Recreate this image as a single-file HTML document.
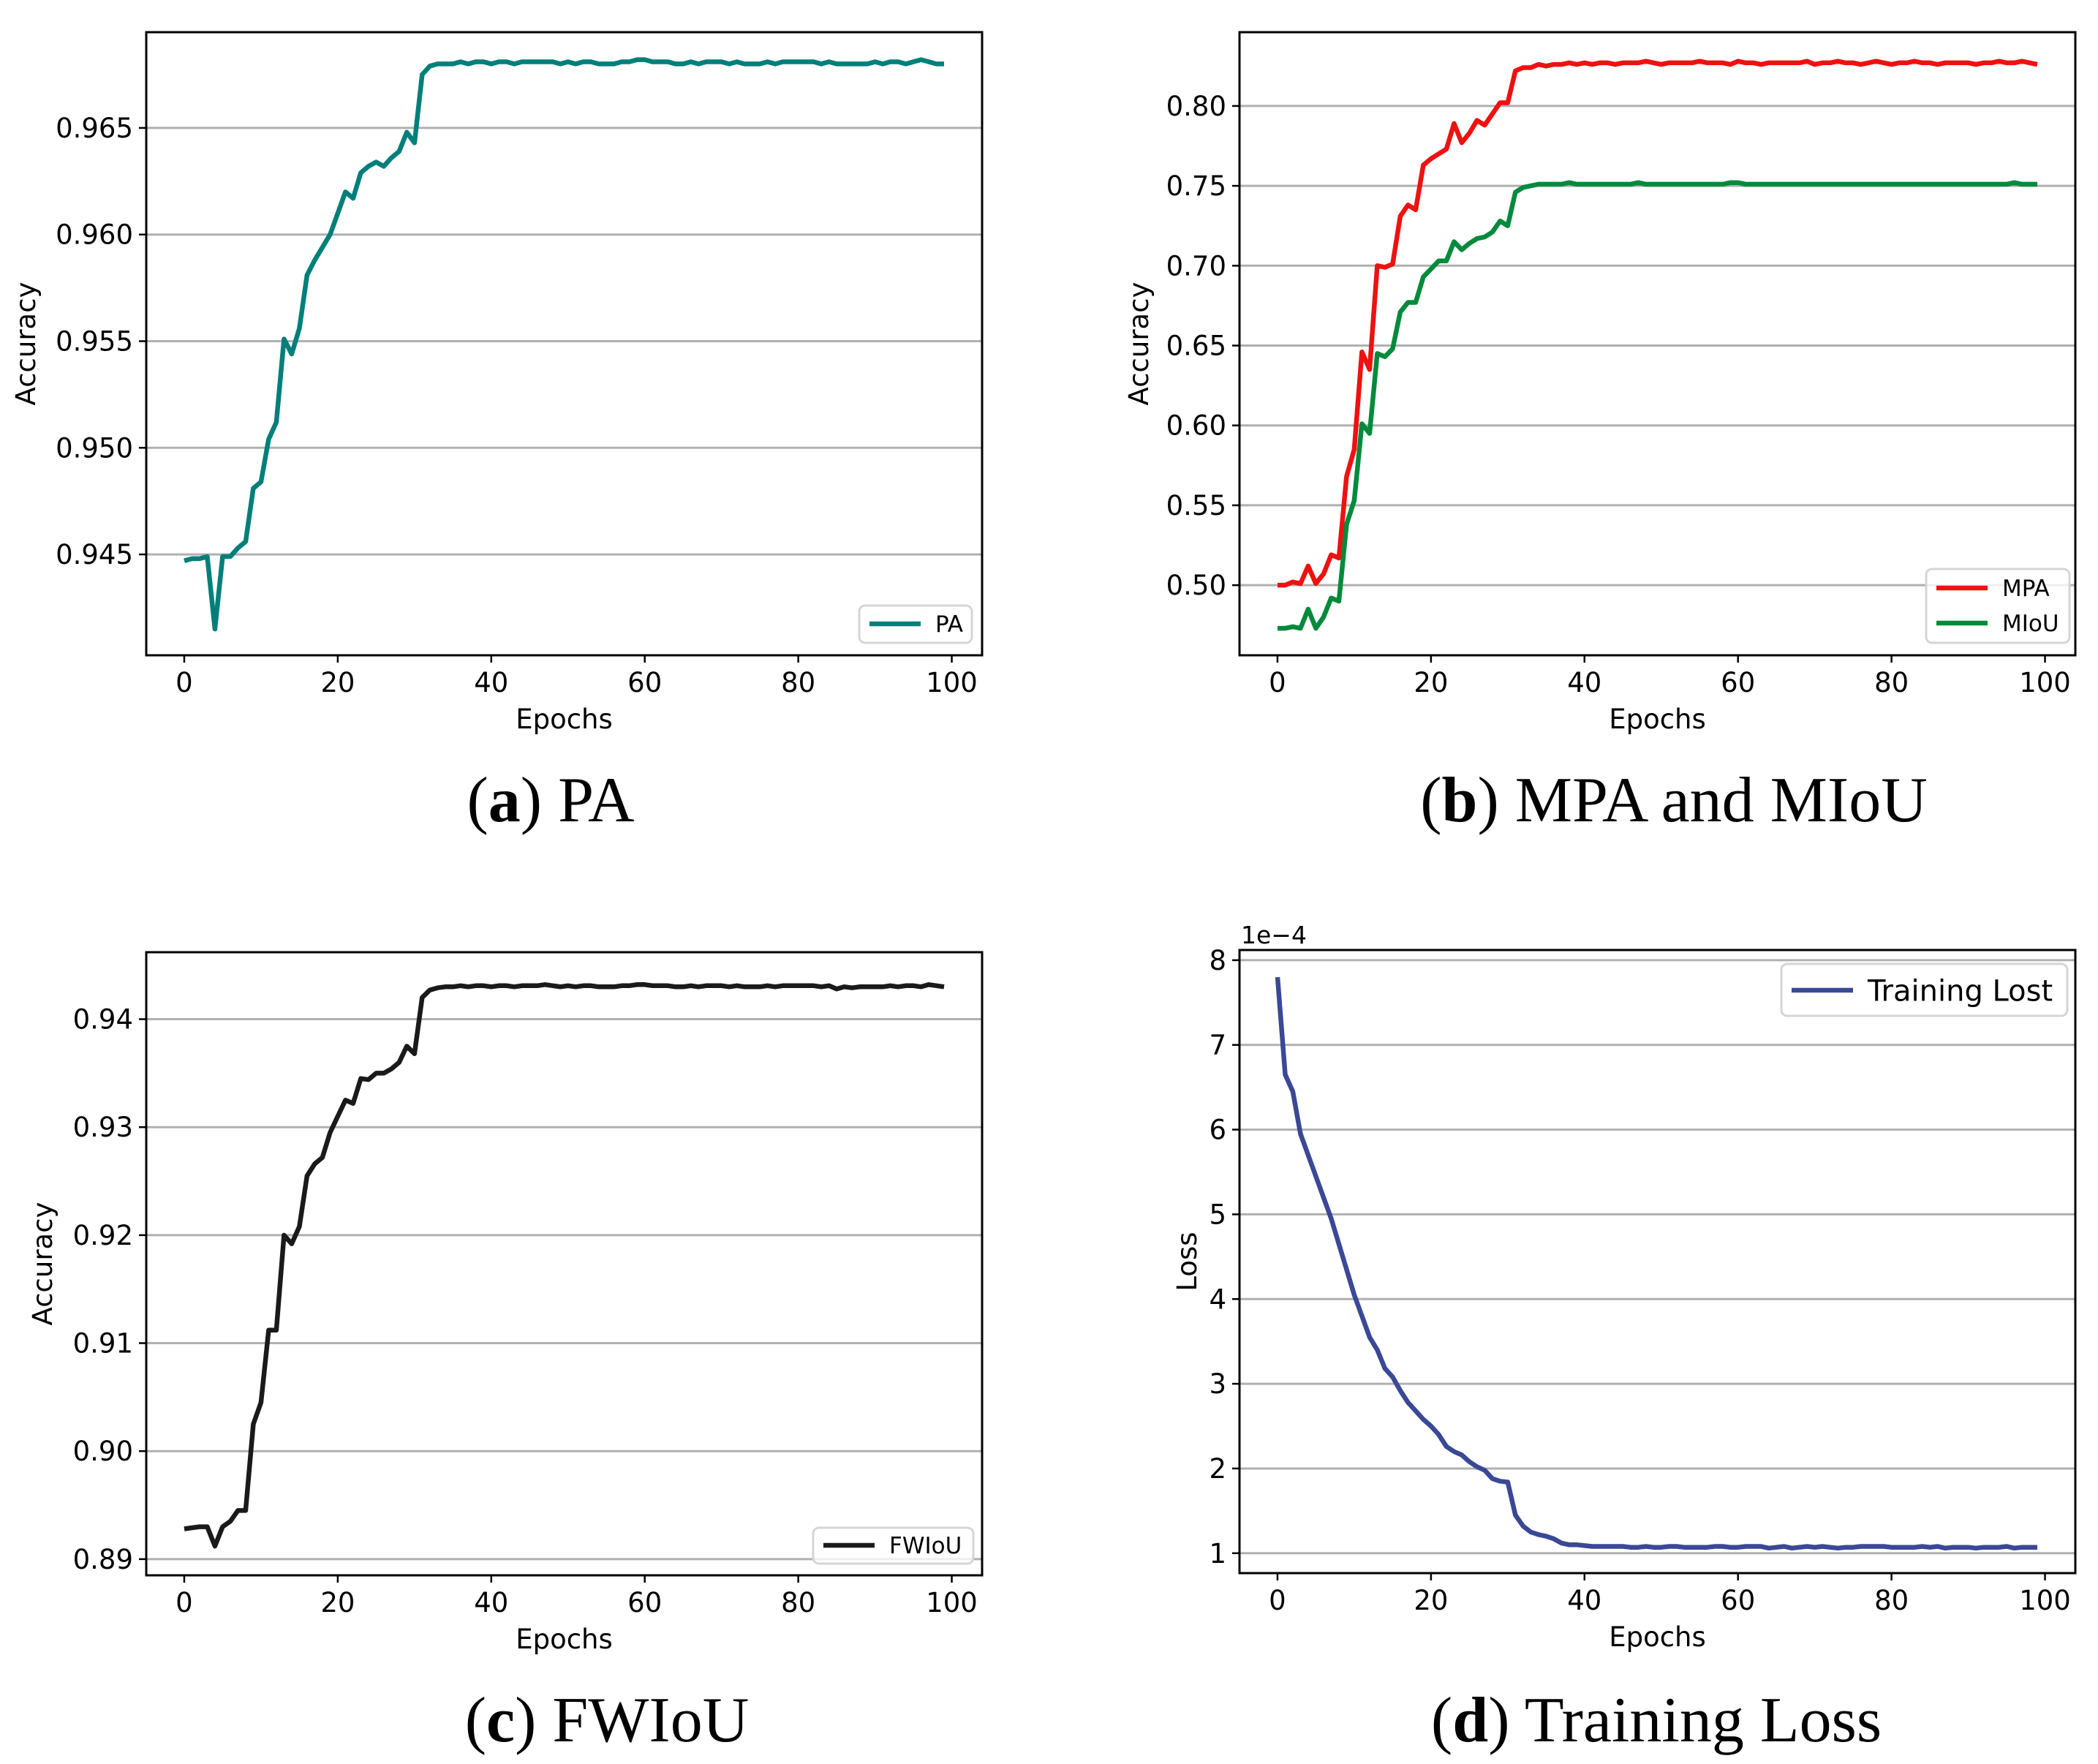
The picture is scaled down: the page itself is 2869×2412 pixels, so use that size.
<!DOCTYPE html>
<html><head><meta charset="utf-8"><style>
html,body{margin:0;padding:0;background:#fff;}
svg{display:block;}
</style></head><body>
<svg id="fig" xmlns="http://www.w3.org/2000/svg" width="2869" height="2412" viewBox="0 0 2869 2412"></svg>
<script>
const epochs = Array.from({length:100},(_, i)=>i);
const paValues = [0.9447,0.9448,0.9448,0.9449,0.9415,0.9449,0.9449,0.9453,0.9456,0.9481,0.9484,0.9504,0.9512,0.9551,0.9544,0.9556,0.9581,0.9588,0.9594,0.9600,0.9610,0.9620,0.9617,0.9629,0.9632,0.9634,0.9632,0.9636,0.9639,0.9648,0.9643,0.9675,0.9679,0.9680,0.9680,0.9680,0.9681,0.9680,0.9681,0.9681,0.9680,0.9681,0.9681,0.9680,0.9681,0.9681,0.9681,0.9681,0.9681,0.9680,0.9681,0.9680,0.9681,0.9681,0.9680,0.9680,0.9680,0.9681,0.9681,0.9682,0.9682,0.9681,0.9681,0.9681,0.9680,0.9680,0.9681,0.9680,0.9681,0.9681,0.9681,0.9680,0.9681,0.9680,0.9680,0.9680,0.9681,0.9680,0.9681,0.9681,0.9681,0.9681,0.9681,0.9680,0.9681,0.9680,0.9680,0.9680,0.9680,0.9680,0.9681,0.9680,0.9681,0.9681,0.9680,0.9681,0.9682,0.9681,0.9680,0.9680];
const mpaValues = [0.500,0.500,0.502,0.501,0.512,0.501,0.507,0.519,0.517,0.568,0.585,0.646,0.635,0.700,0.699,0.701,0.731,0.738,0.735,0.763,0.767,0.770,0.773,0.789,0.777,0.783,0.791,0.788,0.795,0.802,0.802,0.822,0.824,0.824,0.826,0.825,0.826,0.826,0.827,0.826,0.827,0.826,0.827,0.827,0.826,0.827,0.827,0.827,0.828,0.827,0.826,0.827,0.827,0.827,0.827,0.828,0.827,0.827,0.827,0.826,0.828,0.827,0.827,0.826,0.827,0.827,0.827,0.827,0.827,0.828,0.826,0.827,0.827,0.828,0.827,0.827,0.826,0.827,0.828,0.827,0.826,0.827,0.827,0.828,0.827,0.827,0.826,0.827,0.827,0.827,0.827,0.826,0.827,0.827,0.828,0.827,0.827,0.828,0.827,0.826];
const miouValues = [0.473,0.473,0.474,0.473,0.485,0.473,0.480,0.492,0.490,0.538,0.553,0.601,0.595,0.645,0.643,0.648,0.671,0.677,0.677,0.693,0.698,0.703,0.703,0.715,0.710,0.714,0.717,0.718,0.721,0.728,0.725,0.746,0.749,0.750,0.751,0.751,0.751,0.751,0.752,0.751,0.751,0.751,0.751,0.751,0.751,0.751,0.751,0.752,0.751,0.751,0.751,0.751,0.751,0.751,0.751,0.751,0.751,0.751,0.751,0.752,0.752,0.751,0.751,0.751,0.751,0.751,0.751,0.751,0.751,0.751,0.751,0.751,0.751,0.751,0.751,0.751,0.751,0.751,0.751,0.751,0.751,0.751,0.751,0.751,0.751,0.751,0.751,0.751,0.751,0.751,0.751,0.751,0.751,0.751,0.751,0.751,0.752,0.751,0.751,0.751];
const fwiouValues = [0.8928,0.8929,0.8930,0.8930,0.8912,0.8930,0.8935,0.8945,0.8945,0.9025,0.9045,0.9112,0.9112,0.9200,0.9192,0.9208,0.9255,0.9266,0.9272,0.9295,0.9310,0.9325,0.9322,0.9345,0.9344,0.9350,0.9350,0.9354,0.9360,0.9375,0.9368,0.9420,0.9427,0.9429,0.9430,0.9430,0.9431,0.9430,0.9431,0.9431,0.9430,0.9431,0.9431,0.9430,0.9431,0.9431,0.9431,0.9432,0.9431,0.9430,0.9431,0.9430,0.9431,0.9431,0.9430,0.9430,0.9430,0.9431,0.9431,0.9432,0.9432,0.9431,0.9431,0.9431,0.9430,0.9430,0.9431,0.9430,0.9431,0.9431,0.9431,0.9430,0.9431,0.9430,0.9430,0.9430,0.9431,0.9430,0.9431,0.9431,0.9431,0.9431,0.9431,0.9430,0.9431,0.9428,0.9430,0.9429,0.9430,0.9430,0.9430,0.9430,0.9431,0.9430,0.9431,0.9431,0.9430,0.9432,0.9431,0.9430];
const lossValues = [7.8,6.65,6.45,5.95,5.7,5.45,5.2,4.95,4.65,4.35,4.05,3.8,3.55,3.4,3.18,3.08,2.92,2.78,2.68,2.58,2.5,2.4,2.26,2.2,2.16,2.08,2.02,1.98,1.88,1.85,1.84,1.45,1.32,1.25,1.22,1.2,1.17,1.12,1.1,1.1,1.09,1.08,1.08,1.08,1.08,1.08,1.07,1.07,1.08,1.07,1.07,1.08,1.08,1.07,1.07,1.07,1.07,1.08,1.08,1.07,1.07,1.08,1.08,1.08,1.06,1.07,1.08,1.06,1.07,1.08,1.07,1.08,1.07,1.06,1.07,1.07,1.08,1.08,1.08,1.08,1.07,1.07,1.07,1.07,1.08,1.07,1.08,1.06,1.07,1.07,1.07,1.06,1.07,1.07,1.07,1.08,1.06,1.07,1.07,1.07];
const xTicks = [0,20,40,60,80,100];
const paTicks = [0.945,0.950,0.955,0.960,0.965];
const paTickLabels = ["0.945","0.950","0.955","0.960","0.965"];
const bTicks = [0.50,0.55,0.60,0.65,0.70,0.75,0.80];
const bTickLabels = ["0.50","0.55","0.60","0.65","0.70","0.75","0.80"];
const cTicks = [0.89,0.90,0.91,0.92,0.93,0.94];
const cTickLabels = ["0.89","0.90","0.91","0.92","0.93","0.94"];
const dTicks = [1,2,3,4,5,6,7,8];
const dTickLabels = ["1","2","3","4","5","6","7","8"];

const NS = "http://www.w3.org/2000/svg";
const svg = document.getElementById('fig');
function mk(tag, attrs, parent, text){
  const e = document.createElementNS(NS, tag);
  for (const k in attrs) e.setAttribute(k, attrs[k]);
  if (text !== undefined) e.textContent = text;
  (parent||svg).appendChild(e);
  return e;
}
const FONT = "DejaVu Sans, Liberation Sans, sans-serif";

function panel(cfg){
  const g = mk('g', {});
  
  
  const L=cfg.left, R=cfg.left+1143, T=cfg.top, B=cfg.top+852;
  const xs = v => L + (v - (-4.95)) / (103.95 - (-4.95)) * (R - L);
  const ys = v => B - (v - cfg.ymin) / (cfg.ymax - cfg.ymin) * (B - T);
  cfg.yticks.forEach((t,i)=>{
    const y = ys(t);
    const gl = mk('line', {x1:L, x2:R, y1:y, y2:y, stroke:'#b0b0b0', 'stroke-width':3}, g);
    
    
    mk('line', {x1:L-10, x2:L, y1:y, y2:y, stroke:'#000', 'stroke-width':2.5}, g);
    const tl = mk('text', {x:L-18, y:y+13, 'text-anchor':'end', 'font-family':FONT, 'font-size':37, fill:'#000'}, g, cfg.ylabels[i]);
    
    
  });
  xTicks.forEach(t=>{
    const x = xs(t);
    mk('line', {x1:x, x2:x, y1:B, y2:B+10, stroke:'#000', 'stroke-width':2.5}, g);
    const tl = mk('text', {x:x, y:B+50, 'text-anchor':'middle', 'font-family':FONT, 'font-size':37, fill:'#000'}, g, String(t));
    
    
  });
  cfg.series.forEach(s=>{
    const d = s.values.map((v,i)=>(i?'L':'M')+xs(epochs[i]).toFixed(1)+','+ys(v).toFixed(1)).join(' ');
    const p = mk('path', {d:d, fill:'none', stroke:s.color, 'stroke-width':6.5, 'stroke-linejoin':'round'}, g);
    
    
  });
  const sp = mk('rect', {x:L, y:T, width:R-L, height:B-T, fill:'none', stroke:'#000', 'stroke-width':3}, g);
  
  
  const xl = mk('text', {x:(L+R)/2, y:B+100, 'text-anchor':'middle', 'font-family':FONT, 'font-size':37, fill:'#000'}, g, 'Epochs');
  
  
  const yl = mk('text', {x:0, y:0, transform:`translate(${cfg.ylabX},${(T+B)/2}) rotate(-90)`, 'text-anchor':'middle', 'font-family':FONT, 'font-size':37, fill:'#000'}, g, cfg.ytitle);
  
  
  const lg = cfg.legend;
  const lgG = mk('g', {}, g);
  
  
  mk('rect', {x:lg.x, y:lg.y, width:lg.w, height:lg.h, rx:8, fill:'#fff', 'fill-opacity':0.8, stroke:'#d6d6d6', 'stroke-width':3}, lgG);
  cfg.series.forEach((s,i)=>{
    const cy = lg.y + lg.pad + i*lg.row;
    mk('line', {x1:lg.x+14, x2:lg.x+14+lg.lineLen, y1:cy, y2:cy, stroke:s.color, 'stroke-width':6.5}, lgG);
    const t = mk('text', {x:lg.x+lg.lineLen+34, y:cy+lg.fs*0.36, 'font-family':FONT, 'font-size':lg.fs, fill:'#000'}, lgG, s.label);
    
    
  });
  return {g, L, T};
}

panel({name:'pa-chart', left:200, top:44, ymin:0.94027, ymax:0.96949, yticks:paTicks, ylabels:paTickLabels, ytitle:'Accuracy', ylabX:48,
  series:[{key:'pa', label:'PA', color:'#007f7a', values:paValues}],
  legend:{x:1175, y:828, w:154, h:51, pad:25, row:46, lineLen:70, fs:31}});
panel({name:'mpa-miou-chart', left:1695, top:44, ymin:0.4561, ymax:0.8462, yticks:bTicks, ylabels:bTickLabels, ytitle:'Accuracy', ylabX:1570,
  series:[{key:'mpa', label:'MPA', color:'#ee1111', values:mpaValues},{key:'miou', label:'MIoU', color:'#028a3c', values:miouValues}],
  legend:{x:2634, y:778, w:196, h:101, pad:26, row:48, lineLen:70, fs:31}});
panel({name:'fwiou-chart', left:200, top:1302, ymin:0.8885, ymax:0.9462, yticks:cTicks, ylabels:cTickLabels, ytitle:'Accuracy', ylabX:71,
  series:[{key:'fwiou', label:'FWIoU', color:'#1a1a1a', values:fwiouValues}],
  legend:{x:1112, y:2089, w:219, h:49, pad:24, row:46, lineLen:70, fs:31}});
const pd = panel({name:'training-loss-chart', left:1695, top:1299, ymin:0.765, ymax:8.12, yticks:dTicks, ylabels:dTickLabels, ytitle:'Loss', ylabX:1636,
  series:[{key:'loss', label:'Training Lost', color:'#3a4896', values:lossValues}],
  legend:{x:2436, y:1318, w:391, h:71, pad:36, row:46, lineLen:84, fs:40}});
const off = mk('text', {x:1697, y:1290, 'font-family':FONT, 'font-size':33, fill:'#000'}, pd.g, '1e\u22124');



const caps = [
  {x:753, y:1123, b:'a', t:' PA', n:'caption-a'},
  {x:2289, y:1123, b:'b', t:' MPA and MIoU', n:'caption-b'},
  {x:830, y:2381, b:'c', t:' FWIoU', n:'caption-c'},
  {x:2265, y:2381, b:'d', t:' Training Loss', n:'caption-d'}
];
caps.forEach(c=>{
  const t = mk('text', {x:c.x, y:c.y, 'text-anchor':'middle', 'font-family':'Liberation Serif, serif', 'font-size':88, fill:'#000'});
  
  
  mk('tspan', {}, t, '(');
  mk('tspan', {'font-weight':'bold'}, t, c.b);
  mk('tspan', {}, t, ')' + c.t);
});
</script>
</body></html>
